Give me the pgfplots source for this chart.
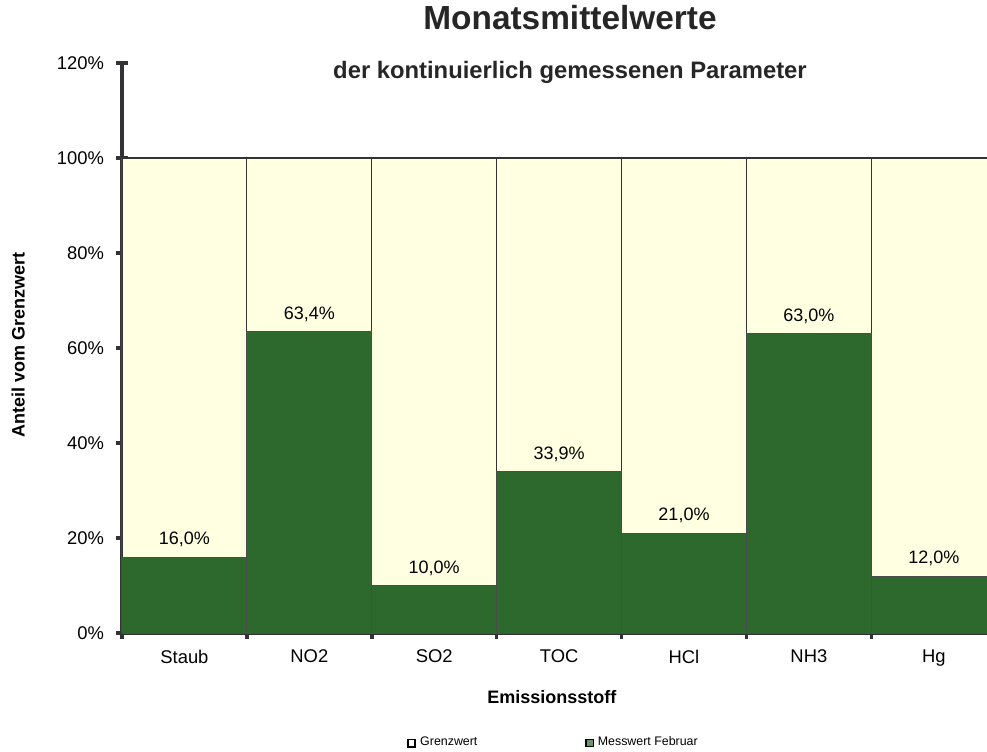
\documentclass[border=0pt]{standalone}
\usepackage{pgfplots}
\pgfplotsset{compat=1.18}
\usepackage{fontspec}
\setmainfont{Liberation Sans}
\definecolor{cream}{RGB}{255,255,226}
\definecolor{dgreen}{RGB}{45,104,45}
\definecolor{axgray}{RGB}{50,50,55}
\begin{document}
\begin{tikzpicture}
\begin{axis}[
  scale only axis, width=432.5pt, height=285pt,
  at={(0,0)}, anchor=south west,
  ybar, bar width=1, bar shift=0pt,
  xmin=-0.5, xmax=6.426, ymin=0, ymax=120,
  axis x line=bottom, axis y line=left,
  axis line style={-, line width=2pt, draw=axgray},
  /pgf/number format/assume math mode=true,
  ticklabel style={font=\fontsize{9.2}{10}\selectfont},
  ytick={0,20,...,120},
  yticklabel={\pgfmathprintnumber{\tick}\%},
  yticklabel style={xshift=-2.5pt},
  xtick={-0.5,0.5,...,5.5}, xticklabels={},
  extra x ticks={0,...,6},
  extra x tick labels={Staub,NO2,SO2,TOC,HCl,NH3,Hg},
  extra x tick style={major tick length=0pt},
  tick align=center, major tick length=6pt,
  tick style={line width=1.8pt, draw=axgray},
  xticklabel style={yshift=-5pt},
  xlabel={\bfseries Emissionsstoff},
  ylabel={\bfseries Anteil vom Grenzwert},
  label style={font=\fontsize{9}{10}\selectfont},
  xlabel style={at={(axis description cs:0.497,0)}, yshift=-32pt, anchor=center},
  ylabel style={at={(axis description cs:-0.12,0.505)}, anchor=center},
  legend style={at={(axis description cs:0.5,0)}, anchor=center, yshift=-55pt,
    draw=none, fill=none, legend columns=2, font=\fontsize{6.2}{7}\selectfont,
    /tikz/every even column/.append style={column sep=52pt}},
]
\addplot[fill=cream, draw=black!80, line width=0.6pt,
  legend image code/.code={\draw[fill=white,draw=black,line width=0.9pt] (0pt,-1.8pt) rectangle (3.6pt,1.8pt);}]
  coordinates {(0,100) (1,100) (2,100) (3,100) (4,100) (5,100) (6,100)};
\addlegendentry{Grenzwert}
\addplot[fill=dgreen, draw=black!70, line width=0.5pt,
  nodes near coords={\pgfmathprintnumber[fixed,fixed zerofill,precision=1,use comma]{\pgfplotspointmeta}\%},
  every node near coord/.append style={font=\fontsize{9}{10}\selectfont, yshift=1.5pt, text=black},
  legend image code/.code={\draw[fill=dgreen!70,draw=black,line width=0.6pt] (0pt,-1.8pt) rectangle (3.6pt,1.8pt);}]
  coordinates {(0,16.0) (1,63.4) (2,10.0) (3,33.9) (4,21.0) (5,63.0) (6,12.0)};
\addlegendentry{Messwert Februar}
\end{axis}
\node[font=\fontsize{16.7}{18}\selectfont\bfseries, text=black!85] at (224pt,307.5pt) {Monatsmittelwerte};
\node[font=\fontsize{11.9}{13}\selectfont\bfseries, text=black!85] at (224pt,280.5pt) {der kontinuierlich gemessenen Parameter};
\pgfresetboundingbox
\path (-61pt,-59pt) rectangle (432.5pt,316.5pt);
\end{tikzpicture}
\end{document}
